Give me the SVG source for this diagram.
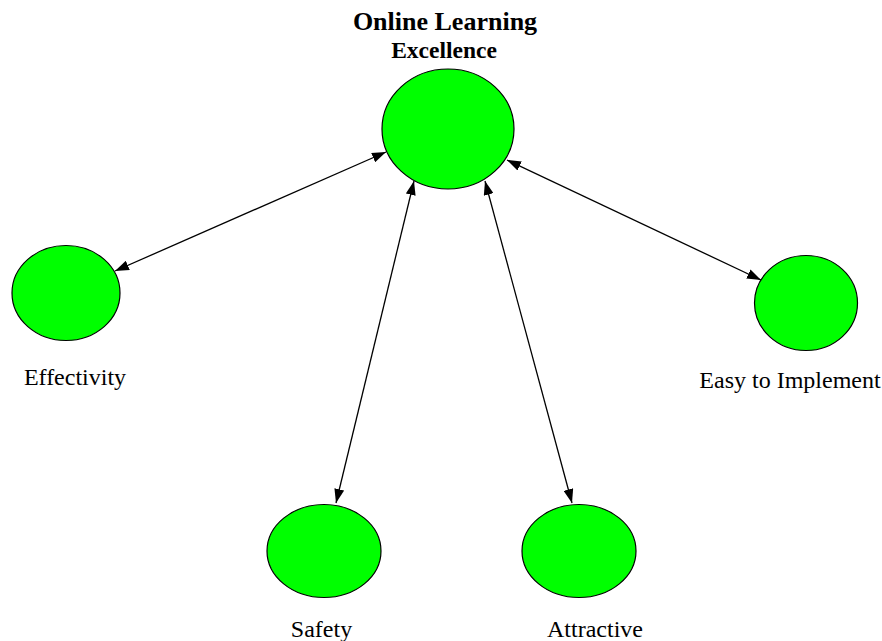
<svg xmlns="http://www.w3.org/2000/svg" width="882" height="641" viewBox="0 0 882 641">
<style>
.node{fill:#00ff00;stroke:#000;stroke-width:1.2}
.lbl{font-family:"Liberation Serif","Times New Roman",serif;font-size:24px;fill:#000;text-anchor:middle}
.ttl{font-family:"Liberation Serif","Times New Roman",serif;font-weight:bold;fill:#000;text-anchor:middle}
.edge{stroke:#000;stroke-width:1.3;fill:none;marker-start:url(#ah);marker-end:url(#ah)}
</style>
<defs>
<marker id="ah" viewBox="0 0 14 10" refX="14" refY="5" markerWidth="14" markerHeight="10" markerUnits="userSpaceOnUse" orient="auto-start-reverse">
<path d="M0,0 L14,5 L0,10 z" fill="#000"/>
</marker>
</defs>
<rect width="882" height="641" fill="#fff"/>
<g id="connectors">
<line class="edge" x1="115" y1="271" x2="386" y2="152"/>
<line class="edge" x1="336" y1="503" x2="414" y2="181"/>
<line class="edge" x1="572" y1="503" x2="485" y2="181"/>
<line class="edge" x1="761" y1="280" x2="507" y2="160"/>
</g>
<g id="center">
<text class="ttl" x="445" y="30" font-size="26">Online Learning</text>
<text class="ttl" x="444" y="58" font-size="23.5">Excellence</text>
<ellipse class="node" cx="448" cy="129" rx="66" ry="60"/>
</g>
<g id="effectivity">
<ellipse class="node" cx="66" cy="293" rx="54" ry="47.5"/>
<text class="lbl" x="75" y="385">Effectivity</text>
</g>
<g id="easy">
<ellipse class="node" cx="806" cy="303" rx="51.5" ry="47.5"/>
<text class="lbl" x="790" y="388">Easy to Implement</text>
</g>
<g id="safety">
<ellipse class="node" cx="324" cy="551" rx="57" ry="46.5"/>
<text class="lbl" x="321.5" y="637">Safety</text>
</g>
<g id="attractive">
<ellipse class="node" cx="579" cy="551" rx="57" ry="46.5"/>
<text class="lbl" x="595" y="637">Attractive</text>
</g>
</svg>
